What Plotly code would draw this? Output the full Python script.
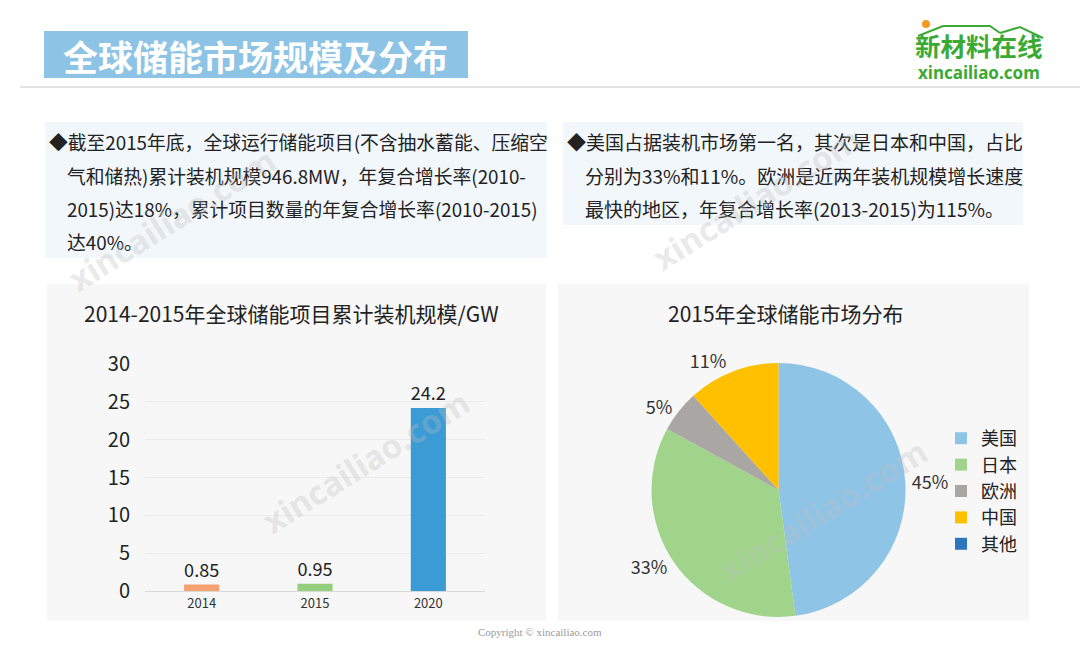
import plotly.graph_objects as go

# ---------------- data ----------------
bar_years = ["2014", "2015", "2020"]
bar_values = [0.85, 0.95, 24.2]
bar_labels = ["0.85", "0.95", "24.2"]
bar_colors = ["#F6A172", "#93CF7C", "#3A9BD5"]

pie_labels = ["美国", "日本", "欧洲", "中国", "其他"]
pie_values = [45, 33, 5, 11, 0]
pie_text = ["45%", "33%", "5%", "11%", ""]
pie_colors = ["#8EC4E6", "#9FD48A", "#A9A6A3", "#FFC000", "#2E75C0"]

y_ticks = [0, 5, 10, 15, 20, 25, 30]

page_title = "全球储能市场规模及分布"
bar_title = "2014-2015年全球储能项目累计装机规模/GW"
pie_title = "2015年全球储能市场分布"
left_lines = [
    "◆截至2015年底，全球运行储能项目(不含抽水蓄能、压缩空",
    "气和储热)累计装机规模946.8MW，年复合增长率(2010-",
    "2015)达18%，累计项目数量的年复合增长率(2010-2015)",
    "达40%。",
]
right_lines = [
    "◆美国占据装机市场第一名，其次是日本和中国，占比",
    "分别为33%和11%。欧洲是近两年装机规模增长速度",
    "最快的地区，年复合增长率(2013-2015)为115%。",
]

W, H = 1080, 648
FONT = "Noto Sans CJK SC, Noto Sans, sans-serif"


def px(x):
    return x / W


def py(y):
    return 1 - y / H


fig = go.Figure()

fig.add_trace(go.Bar(
    x=bar_years, y=bar_values, text=bar_labels, textposition="outside",
    marker=dict(color=bar_colors, line=dict(width=0)),
    textfont=dict(size=19, color="#222222", family=FONT),
    cliponaxis=False, width=0.31, showlegend=False, hoverinfo="x+y",
    xaxis="x", yaxis="y",
))

fig.add_trace(go.Pie(
    labels=pie_labels, values=pie_values, text=pie_text,
    textinfo="text", textposition="outside",
    textfont=dict(size=18, color="#333333", family=FONT),
    marker=dict(colors=pie_colors, line=dict(width=0)),
    sort=False, direction="clockwise", rotation=0,
    domain=dict(x=[px(651.5), px(905.5)], y=[py(617), py(363)]),
    showlegend=True,
))

shapes = []
# title banner
shapes.append(dict(type="rect", xref="paper", yref="paper", x0=px(44), x1=px(468),
                   y0=py(78), y1=py(31), fillcolor="#8DC3E5", line=dict(width=0), layer="below"))
# separator line
shapes.append(dict(type="line", xref="paper", yref="paper", x0=px(20), x1=1,
                   y0=py(87), y1=py(87), line=dict(color="#D9D9D9", width=1.5)))
# text boxes
shapes.append(dict(type="rect", xref="paper", yref="paper", x0=px(45), x1=px(547),
                   y0=py(258), y1=py(122), fillcolor="#F2F7FC", line=dict(width=0), layer="below"))
shapes.append(dict(type="rect", xref="paper", yref="paper", x0=px(563), x1=px(1023),
                   y0=py(225), y1=py(122), fillcolor="#F2F7FC", line=dict(width=0), layer="below"))
# chart panels
shapes.append(dict(type="rect", xref="paper", yref="paper", x0=px(47), x1=px(546),
                   y0=py(621), y1=py(284), fillcolor="#F7F7F7", line=dict(width=0), layer="below"))
shapes.append(dict(type="rect", xref="paper", yref="paper", x0=px(558), x1=px(1029),
                   y0=py(621), y1=py(284), fillcolor="#F7F7F7", line=dict(width=0), layer="below"))
# logo decorations
shapes.append(dict(type="circle", xref="paper", yref="paper", x0=px(922), x1=px(930),
                   y0=py(28), y1=py(20), fillcolor="#F39A1E", line=dict(width=0)))
shapes.append(dict(type="path", xref="paper", yref="paper",
                   path=f"M {px(918)},{py(36)} L {px(943)},{py(26)} L {px(990)},{py(26)} L {px(1000)},{py(33)} "
                        f"M {px(1000)},{py(33)} L {px(1020)},{py(27)} L {px(1043)},{py(38)}",
                   line=dict(color="#3BAA35", width=2)))

ann = []
ann.append(dict(text=f"<b>{page_title}</b>", x=px(255), y=py(55), xref="paper", yref="paper",
                showarrow=False, font=dict(size=35, color="white", family=FONT),
                xanchor="center", yanchor="middle"))
ann.append(dict(text="<b>新材料在线</b>", x=px(979), y=py(45), xref="paper", yref="paper",
                showarrow=False, font=dict(size=25.5, color="#3BAA35", family=FONT),
                xanchor="center", yanchor="middle"))
ann.append(dict(text="<b>xincailiao.com</b>", x=px(979), y=py(73), xref="paper", yref="paper",
                showarrow=False, font=dict(size=17, color="#3BAA35", family="Noto Sans, sans-serif"),
                xanchor="center", yanchor="middle"))

line_ys = [142, 175, 208, 241]
for i, t in enumerate(left_lines):
    ann.append(dict(text=t, x=px(47 if i == 0 else 65), y=py(line_ys[i]), xref="paper", yref="paper",
                    showarrow=False, font=dict(size=18.8, color="#222222", family=FONT),
                    xanchor="left", yanchor="middle"))
for i, t in enumerate(right_lines):
    ann.append(dict(text=t, x=px(565 if i == 0 else 583), y=py(line_ys[i]), xref="paper", yref="paper",
                    showarrow=False, font=dict(size=19, color="#222222", family=FONT),
                    xanchor="left", yanchor="middle"))

ann.append(dict(text=bar_title, x=px(291), y=py(313), xref="paper", yref="paper",
                showarrow=False, font=dict(size=21, color="#222222", family=FONT),
                xanchor="center", yanchor="middle"))
ann.append(dict(text=pie_title, x=px(786), y=py(313), xref="paper", yref="paper",
                showarrow=False, font=dict(size=21, color="#222222", family=FONT),
                xanchor="center", yanchor="middle"))

# watermarks
for cx, cy in [(172, 220), (756, 198), (366, 462), (823, 510)]:
    ann.append(dict(text="<b>xincailiao.com</b>", x=px(cx), y=py(cy), xref="paper", yref="paper",
                    showarrow=False, textangle=-32,
                    font=dict(size=33, color="rgba(190,190,190,0.32)", family="Noto Sans, sans-serif"),
                    xanchor="center", yanchor="middle"))

ann.append(dict(text="Copyright © xincailiao.com", x=px(540), y=py(632), xref="paper", yref="paper",
                showarrow=False, font=dict(size=11, color="#9A9A9A", family="Liberation Serif, serif"),
                xanchor="center", yanchor="middle"))

fig.update_layout(
    width=W, height=H, margin=dict(l=0, r=0, t=0, b=0, pad=0, autoexpand=False),
    paper_bgcolor="white", plot_bgcolor="rgba(0,0,0,0)",
    font=dict(family=FONT, color="#333333"),
    xaxis=dict(domain=[px(145), px(485)], type="category", showgrid=False,
               showline=True, linecolor="#D9D9D9", linewidth=1, ticks="",
               tickfont=dict(size=13, color="#333333", family=FONT), fixedrange=True),
    yaxis=dict(domain=[py(591), py(364)], range=[0, 30], tickvals=y_ticks,
               showgrid=True, gridcolor="#ECECEC", gridwidth=1, zeroline=False,
               showline=False, ticks="", ticklabelstandoff=14,
               tickfont=dict(size=20, color="#222222", family=FONT), fixedrange=True),
    legend=dict(x=px(941), y=py(420), xanchor="left", yanchor="top",
                font=dict(size=18, color="#222222", family=FONT),
                bgcolor="rgba(0,0,0,0)", tracegroupgap=0),
    shapes=shapes, annotations=ann, showlegend=True,
)

fig.write_html("out.html")
